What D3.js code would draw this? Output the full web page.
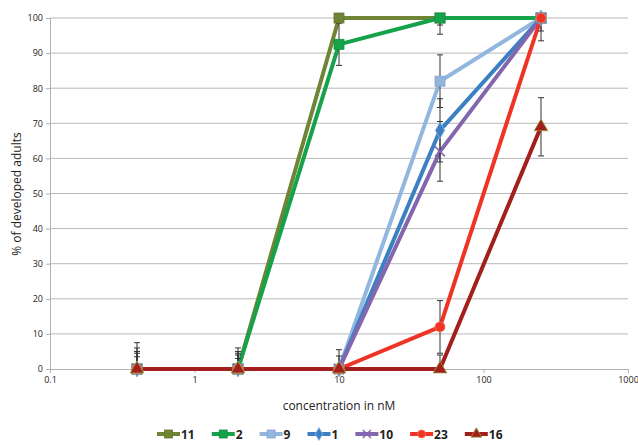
<!DOCTYPE html>
<html lang="en">
<head>
  <meta charset="UTF-8">
  <script src="https://d3js.org/d3.v7.min.js"></script>
  <style>
    body { margin: 0; background: #fff; }
    text { font-family: "Open Sans", "Liberation Sans", sans-serif; fill: #222; }
  </style>
</head>
<body>
<svg id="chart" width="638" height="446"></svg>
<script>
  // concentrations (nM)
  const concentrations = [0.4, 2, 10, 50, 250];
  const seriesNames = ["11", "2", "9", "1", "10", "23", "16"];
  const seriesColors = ["#6f8434", "#16a24a", "#92b7df", "#3b80c2", "#8366ad", "#ef3426", "#a31f1d"];
  const seriesMarkers = ["square", "square", "square", "diamond", "cross", "circle", "triangle"];
  const values11 = [0, 0, 100, 100, 100];
  const values2 = [0, 0, 92.5, 100, 100];
  const values9 = [0, 0, 0, 82, 100];
  const values1 = [0, 0, 0, 68, 100];
  const values10 = [0, 0, 0, 62, 100];
  const values23 = [0, 0, 0, 12, 100];
  const values16 = [0, 0, 0, 0, 69];
  const err11 = [7.5, 6, 0, 2, 0];
  const err2 = [6, 5, 6, 4.6, 0];
  const err9 = [5, 4.5, 5.5, 7.5, 3.7];
  const err1 = [4.5, 4, 3.7, 9, 6.5];
  const err10 = [3.5, 3, 0, 8.5, 0];
  const err23 = [0, 0, 0, 7.5, 0];
  const err16 = [0, 0, 0, 4, 8.3];
  const yTicks = [0, 10, 20, 30, 40, 50, 60, 70, 80, 90, 100];
  const xTicks = [0.1, 1, 10, 100, 1000];

  const allValues = [values11, values2, values9, values1, values10, values23, values16];
  const allErrs = [err11, err2, err9, err1, err10, err23, err16];
  const series = seriesNames.map((name, i) => ({
    name: name, color: seriesColors[i], marker: seriesMarkers[i],
    points: concentrations.map((c, j) => ({ x: c, y: allValues[i][j], e: allErrs[i][j] }))
  }));

  const svg = d3.select("#chart");
  const x = d3.scaleLog().domain([0.1, 1000]).range([50, 628]);
  const y = d3.scaleLinear().domain([0, 100]).range([369, 18]);

  // gridlines
  svg.append("g").selectAll("line").data(yTicks.filter(d => d > 0)).join("line")
    .attr("x1", 50).attr("x2", 628)
    .attr("y1", d => y(d)).attr("y2", d => y(d))
    .attr("stroke", "#b9b9b9").attr("stroke-width", 1);

  // y axis
  const yAxis = svg.append("g").attr("transform", "translate(50,0)")
    .call(d3.axisLeft(y).tickValues(yTicks).tickSize(4).tickPadding(3));
  yAxis.select(".domain").attr("stroke", "#b0b0b0");
  yAxis.selectAll("line").attr("stroke", "#b0b0b0");
  yAxis.selectAll("text").style("font-size", "9px");

  // x axis
  const xAxis = svg.append("g").attr("transform", "translate(0,369)")
    .call(d3.axisBottom(x).tickValues(xTicks).tickFormat(d3.format("~g")).tickSize(4).tickPadding(4));
  xAxis.select(".domain").attr("stroke", "#b0b0b0");
  xAxis.selectAll("line").attr("stroke", "#b0b0b0");
  xAxis.selectAll("text").style("font-size", "9px");

  // titles
  svg.append("text").attr("x", 339).attr("y", 410).attr("text-anchor", "middle")
    .style("font-size", "12px").text("concentration in nM");
  svg.append("text").attr("transform", "translate(21,194) rotate(-90)").attr("text-anchor", "middle")
    .style("font-size", "12px").text("% of developed adults");

  const line = d3.line().x(d => x(d.x)).y(d => y(d.y));

  // lines
  svg.append("g").selectAll("path").data(series).join("path")
    .attr("d", d => line(d.points))
    .attr("fill", "none").attr("stroke", d => d.color)
    .attr("stroke-width", 4).attr("stroke-linejoin", "round");

  // error bars
  const errPts = series.flatMap(s => s.points.filter(p => p.e > 0));
  const eg = svg.append("g").attr("stroke", "#333").attr("stroke-width", 1);
  eg.selectAll("line.v").data(errPts).join("line").attr("class", "v")
    .attr("x1", d => x(d.x)).attr("x2", d => x(d.x))
    .attr("y1", d => y(Math.min(100, d.y + d.e))).attr("y2", d => y(Math.max(0, d.y - d.e)));
  eg.selectAll("line.t").data(errPts.filter(d => d.y + d.e <= 100)).join("line").attr("class", "t")
    .attr("x1", d => x(d.x) - 3).attr("x2", d => x(d.x) + 3)
    .attr("y1", d => y(d.y + d.e)).attr("y2", d => y(d.y + d.e));
  eg.selectAll("line.b").data(errPts.filter(d => d.y - d.e >= 0)).join("line").attr("class", "b")
    .attr("x1", d => x(d.x) - 3).attr("x2", d => x(d.x) + 3)
    .attr("y1", d => y(d.y - d.e)).attr("y2", d => y(d.y - d.e));

  // markers
  function drawMarker(g, type, color, size) {
    if (type === "square") {
      g.append("rect").attr("x", -size).attr("y", -size).attr("width", size * 2).attr("height", size * 2)
        .attr("fill", color).attr("stroke", d3.color(color).darker(0.3)).attr("stroke-width", 0.8);
    } else if (type === "diamond") {
      g.append("path").attr("d", d3.symbol(d3.symbolDiamond, size * size * 3)())
        .attr("fill", color).attr("stroke", "#8fb3dd").attr("stroke-width", 0.8);
    } else if (type === "cross") {
      g.append("path").attr("d", `M${-size},${-size}L${size},${size}M${-size},${size}L${size},${-size}`)
        .attr("stroke", color).attr("stroke-width", 1.5);
    } else if (type === "circle") {
      g.append("circle").attr("r", size).attr("fill", color).attr("stroke", "#f07d50").attr("stroke-width", 0.8);
    } else if (type === "triangle") {
      g.append("path").attr("d", d3.symbol(d3.symbolTriangle, size * size * 3.2)())
        .attr("fill", color).attr("stroke", "#9a9a3a").attr("stroke-width", 0.8);
    }
  }

  series.forEach(s => {
    const mg = svg.append("g");
    s.points.forEach(p => {
      const g = mg.append("g").attr("transform", `translate(${x(p.x)},${y(p.y)})`);
      drawMarker(g, s.marker, s.color, 5);
    });
  });

  // legend
  const legend = svg.append("g").attr("transform", "translate(157,434)");
  let lx = 0;
  series.forEach(s => {
    const item = legend.append("g").attr("transform", `translate(${lx},0)`);
    item.append("line").attr("x1", 0).attr("x2", 23).attr("y1", 0).attr("y2", 0)
      .attr("stroke", s.color).attr("stroke-width", 4);
    const mg = item.append("g").attr("transform", "translate(11.5,0)");
    drawMarker(mg, s.marker, s.color, 4);
    const t = item.append("text").attr("x", 24).attr("y", 4.5)
      .style("font-size", "12px").style("font-weight", "bold").text(s.name);
    const w = t.node().getComputedTextLength();
    lx += 24 + w + 17;
  });
</script>
</body>
</html>
